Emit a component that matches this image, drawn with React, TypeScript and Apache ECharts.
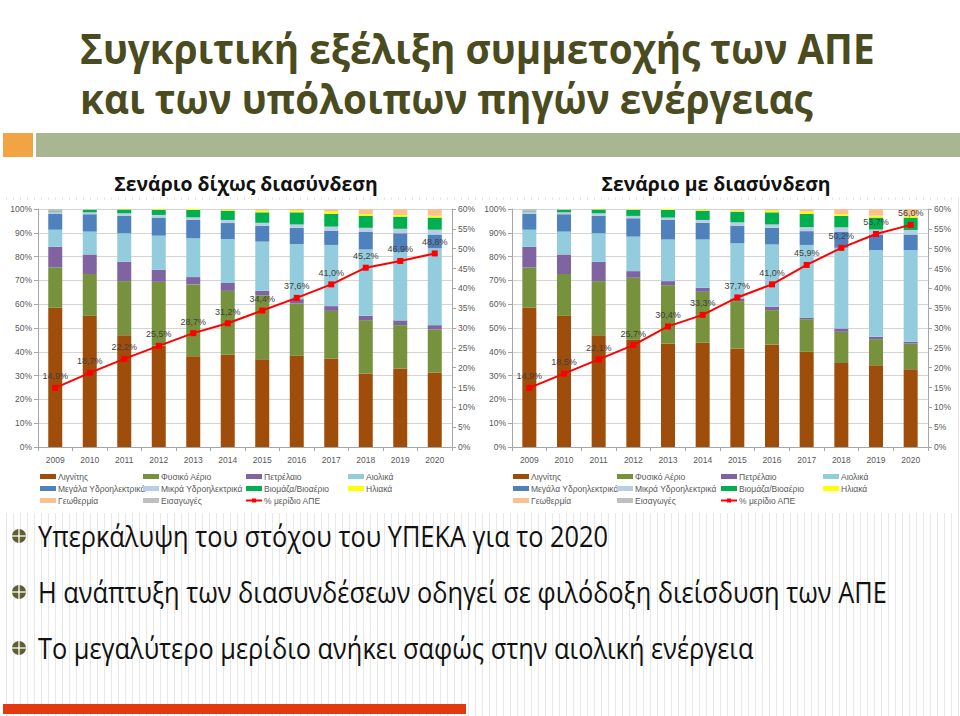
import React, { useEffect, useRef } from 'react';
import * as echarts from 'echarts';

const years = ['2009', '2010', '2011', '2012', '2013', '2014', '2015', '2016', '2017', '2018', '2019', '2020'];

const sourceNames = [
  'Λιγνίτης', 'Φυσικό Αέριο', 'Πετρέλαιο', 'Αιολικά', 'Μεγάλα Υδροηλεκτρικά',
  'Μικρά Υδροηλεκτρικά', 'Βιομάζα/Βιοαέριο', 'Ηλιακά', 'Γεωθερμία', 'Εισαγωγές',
];
const shareName = '% μερίδιο ΑΠΕ';
const sourceColors = ['#9e4d0a', '#76923c', '#8064a2', '#93cddd', '#4f81bd', '#b9cde5', '#00b050', '#ffff00', '#fac090', '#bfbfbf'];

// Σενάριο δίχως διασύνδεση (%)
const ligniteNoLink = [58.5, 55.1, 47.0, 42.5, 38.1, 38.8, 36.9, 38.3, 37.2, 30.9, 33.0, 31.3];
const gasNoLink = [17.0, 17.6, 22.7, 26.9, 30.2, 26.8, 26.9, 22.0, 20.0, 22.4, 18.2, 18.1];
const oilNoLink = [8.6, 8.2, 8.1, 5.1, 3.1, 3.3, 1.8, 1.8, 2.0, 1.8, 2.0, 1.8];
const windNoLink = [7.2, 9.6, 12.0, 14.3, 16.3, 18.5, 20.7, 23.2, 25.7, 27.9, 28.8, 32.3];
const largeHydroNoLink = [6.6, 7.3, 7.4, 7.6, 7.7, 6.7, 6.7, 6.8, 6.0, 7.5, 7.8, 5.8];
const smallHydroNoLink = [0.8, 0.8, 1.0, 1.1, 1.1, 1.3, 1.2, 1.4, 1.7, 1.6, 1.9, 2.0];
const bioNoLink = [0.3, 1.0, 1.6, 2.2, 3.1, 3.9, 4.4, 5.1, 5.3, 5.1, 5.1, 5.1];
const solarNoLink = [0.0, 0.1, 0.2, 0.3, 0.4, 0.5, 0.8, 0.8, 1.0, 0.7, 0.7, 0.8];
const geoNoLink = [0, 0, 0, 0, 0, 0.1, 0.4, 0.4, 1.0, 2.1, 2.5, 2.8];
const importsNoLink = [1.0, 0.3, 0, 0, 0, 0.1, 0.2, 0.2, 0.1, 0, 0, 0];
const resShareNoLink = [14.9, 18.7, 22.2, 25.5, 28.7, 31.2, 34.4, 37.6, 41.0, 45.2, 46.9, 48.8];

// Σενάριο με διασύνδεση (%)
const ligniteLink = [58.5, 55.1, 47.0, 45.0, 43.5, 43.8, 41.4, 43.1, 40.0, 35.3, 34.4, 32.7];
const gasLink = [17.0, 17.6, 22.7, 26.1, 24.5, 21.4, 19.9, 14.4, 13.7, 13.1, 10.9, 10.8];
const oilLink = [8.6, 8.2, 8.1, 2.8, 1.7, 1.7, 1.1, 1.4, 0.7, 1.4, 1.0, 0.7];
const windLink = [7.2, 9.6, 12.0, 14.5, 17.5, 20.3, 23.2, 26.2, 30.5, 33.9, 36.4, 38.5];
const largeHydroLink = [6.6, 7.3, 7.4, 7.7, 8.2, 7.0, 7.4, 7.0, 5.8, 6.8, 6.6, 6.6];
const smallHydroLink = [0.8, 0.8, 1.0, 1.0, 1.0, 1.2, 1.4, 1.4, 1.7, 1.8, 2.1, 1.9];
const bioLink = [0.3, 1.0, 1.6, 2.5, 3.2, 3.9, 4.5, 5.1, 5.5, 4.8, 5.0, 5.2];
const solarLink = [0.0, 0.1, 0.2, 0.3, 0.4, 0.5, 0.5, 0.8, 1.0, 0.7, 0.8, 0.7];
const geoLink = [0, 0, 0, 0, 0, 0.1, 0.4, 0.4, 1.0, 2.2, 2.8, 2.9];
const importsLink = [1.0, 0.3, 0, 0.1, 0, 0.1, 0.2, 0.2, 0.1, 0, 0, 0];
const resShareLink = [14.9, 18.5, 22.1, 25.7, 30.4, 33.3, 37.7, 41.0, 45.9, 50.2, 53.7, 56.0];

const titleLines = ['Συγκριτική εξέλιξη συμμετοχής των ΑΠΕ', 'και των υπόλοιπων πηγών ενέργειας'];
const chartTitles = ['Σενάριο δίχως διασύνδεση', 'Σενάριο με διασύνδεση'];
const bullets = [
  'Υπερκάλυψη του στόχου του ΥΠΕΚΑ για το 2020',
  'Η ανάπτυξη των διασυνδέσεων οδηγεί σε φιλόδοξη διείσδυση των ΑΠΕ',
  'Το μεγαλύτερο μερίδιο ανήκει σαφώς στην αιολική ενέργεια',
];

const stacksNoLink = [ligniteNoLink, gasNoLink, oilNoLink, windNoLink, largeHydroNoLink, smallHydroNoLink, bioNoLink, solarNoLink, geoNoLink, importsNoLink];
const stacksLink = [ligniteLink, gasLink, oilLink, windLink, largeHydroLink, smallHydroLink, bioLink, solarLink, geoLink, importsLink];

const fmt = (v: number) => v.toFixed(1).replace('.', ',') + '%';

const AXIS_FONT = 'Liberation Sans';
const axisGray = '#a6a6a6';
const labelGray = '#595959';

function buildAxes(gridIndex: number) {
  const x = {
    type: 'category', gridIndex, data: years,
    axisLine: { lineStyle: { color: axisGray } },
    axisTick: { show: true, length: 4, lineStyle: { color: axisGray } },
    axisLabel: { fontSize: 8.5, color: labelGray, margin: 8, fontFamily: AXIS_FONT },
  };
  const yLeft = {
    type: 'value', gridIndex, min: 0, max: 100, interval: 10, position: 'left',
    axisLine: { show: true, lineStyle: { color: axisGray } },
    axisTick: { show: true, length: 4, lineStyle: { color: axisGray } },
    axisLabel: { formatter: '{value}%', fontSize: 8.5, color: labelGray, margin: 6, fontFamily: AXIS_FONT },
    splitLine: { show: true, lineStyle: { color: '#d4d4d4' } },
  };
  const yRight = {
    type: 'value', gridIndex, min: 0, max: 60, interval: 5, position: 'right',
    axisLine: { show: true, lineStyle: { color: axisGray } },
    axisTick: { show: true, length: 4, lineStyle: { color: axisGray } },
    axisLabel: { formatter: '{value}%', fontSize: 8.5, color: labelGray, margin: 6, fontFamily: AXIS_FONT },
    splitLine: { show: false },
  };
  return { x, yLeft, yRight };
}

function buildSeries(stacks: number[][], share: number[], xIdx: number, yLeftIdx: number, yRightIdx: number, stackId: string) {
  const bars = sourceNames.map((name, i) => ({
    type: 'bar', name, stack: stackId, xAxisIndex: xIdx, yAxisIndex: yLeftIdx,
    data: stacks[i], barWidth: 14, itemStyle: { color: sourceColors[i] },
  }));
  const line = {
    type: 'line', name: shareName, xAxisIndex: xIdx, yAxisIndex: yRightIdx, data: share,
    symbol: 'rect', symbolSize: 6, z: 5,
    lineStyle: { color: '#ff0000', width: 2 }, itemStyle: { color: '#ff0000' },
    label: {
      show: true, position: 'top', distance: 4, fontSize: 9, color: '#404040', fontFamily: AXIS_FONT,
      formatter: (p: any) => fmt(p.value),
    },
  };
  return [...bars, line];
}

const legendColumns = [
  ['Λιγνίτης', 'Μεγάλα Υδροηλεκτρικά', 'Γεωθερμία'],
  ['Φυσικό Αέριο', 'Μικρά Υδροηλεκτρικά', 'Εισαγωγές'],
  ['Πετρέλαιο', 'Βιομάζα/Βιοαέριο', shareName],
  ['Αιολικά', 'Ηλιακά'],
];

function buildLegends(xs: number[]) {
  return legendColumns.map((col, ci) => ({
    left: xs[ci], top: 472, orient: 'vertical', padding: 0, itemGap: 3,
    itemWidth: 16, itemHeight: 5, selectedMode: false,
    textStyle: { fontSize: 8.5, color: labelGray, fontFamily: AXIS_FONT, padding: [0, 0, 0, -3] },
    data: col.map((n) => (n === shareName ? { name: n } : { name: n, icon: 'rect' })),
  }));
}

function bulletGlyph(cx: number, cy: number) {
  return [
    { type: 'circle', shape: { cx, cy, r: 7 }, style: { fill: '#5f5f33' } },
    { type: 'line', shape: { x1: cx - 7, y1: cy, x2: cx + 7, y2: cy }, style: { stroke: '#ffffff', lineWidth: 1.3 } },
    { type: 'line', shape: { x1: cx, y1: cy - 7, x2: cx, y2: cy + 7 }, style: { stroke: '#ffffff', lineWidth: 1.3 } },
  ];
}

export default function App() {
  const ref = useRef<HTMLDivElement>(null);
  useEffect(() => {
    if (!ref.current) return;
    const chart = echarts.init(ref.current, null, { renderer: 'svg' });
    const a0 = buildAxes(0);
    const a1 = buildAxes(1);
    const bulletYs = [536, 592, 648];
    const option: any = {
      animation: false,
      backgroundColor: 'transparent',
      grid: [
        { left: 38, top: 209, width: 414, height: 238 },
        { left: 512, top: 209, width: 416, height: 238 },
      ],
      xAxis: [a0.x, a1.x],
      yAxis: [a0.yLeft, a0.yRight, a1.yLeft, a1.yRight],
      legend: [...buildLegends([40, 143, 245, 348]), ...buildLegends([513, 617, 720, 823])],
      series: [
        ...buildSeries(stacksNoLink, resShareNoLink, 0, 0, 1, 'noLink'),
        ...buildSeries(stacksLink, resShareLink, 1, 2, 3, 'link'),
      ],
      graphic: [
        { type: 'rect', z: -10, shape: { x: 0, y: 0, width: 960, height: 197 }, style: { fill: '#ffffff' } },
        { type: 'rect', z: -10, shape: { x: 4, y: 200, width: 475, height: 313 }, style: { fill: '#ffffff' } },
        { type: 'rect', z: -10, shape: { x: 482, y: 200, width: 476, height: 313 }, style: { fill: '#ffffff' } },
        { type: 'rect', shape: { x: 3, y: 133, width: 30, height: 24 }, style: { fill: '#f2a444' } },
        { type: 'rect', shape: { x: 36, y: 133, width: 924, height: 24 }, style: { fill: '#a8b692' } },
        { type: 'rect', shape: { x: 3, y: 704, width: 463, height: 10 }, style: { fill: '#e2390e' } },
        ...titleLines.map((t, i) => ({
          type: 'text', x: 80, y: 48 + i * 50, scaleX: 0.92,
          style: { text: t, fontFamily: 'Open Sans', fontWeight: 'bold', fontSize: 42, fill: '#4b4b20', textAlign: 'left', textVerticalAlign: 'middle' },
        })),
        ...chartTitles.map((t, i) => ({
          type: 'text', x: i === 0 ? 246 : 716, y: 183, scaleX: 0.97,
          style: { text: t, fontFamily: 'Open Sans', fontWeight: 'bold', fontSize: 20, fill: '#111111', textAlign: 'center', textVerticalAlign: 'middle' },
        })),
        ...bullets.map((t, i) => ({
          type: 'text', x: 38, y: bulletYs[i], scaleX: 0.875,
          style: { text: t, fontFamily: 'Open Sans', fontSize: 29, fill: '#111111', textAlign: 'left', textVerticalAlign: 'middle' },
        })),
        ...bulletYs.flatMap((y) => bulletGlyph(19, y)),
      ],
    };
    chart.setOption(option);
    return () => chart.dispose();
  }, []);
  return (
    <div
      ref={ref}
      style={{
        position: 'absolute', left: 0, top: 0, width: 960, height: 716,
        background: 'repeating-linear-gradient(90deg, #ffffff 0px, #ffffff 6px, #e8e8e8 6px, #e8e8e8 7px)',
      }}
    />
  );
}
